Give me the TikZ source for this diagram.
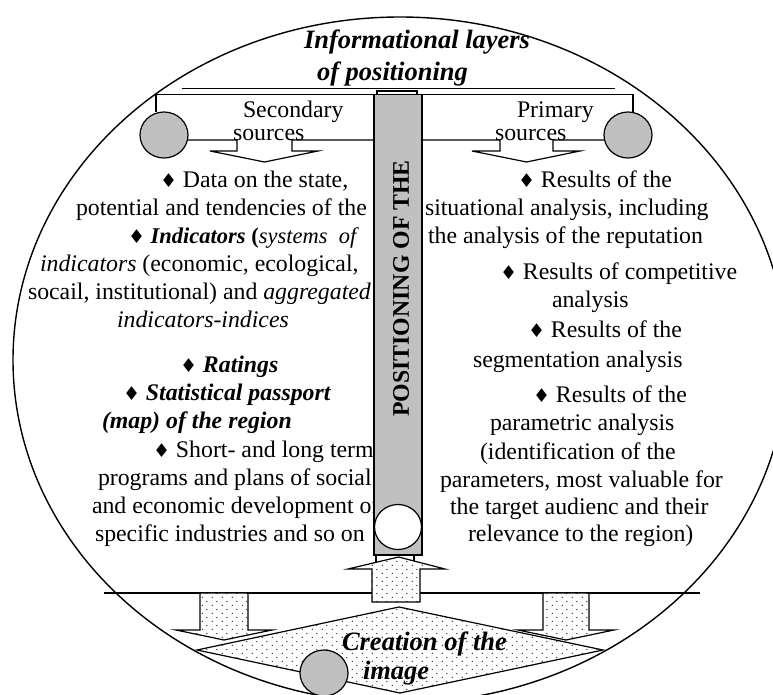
\documentclass[tikz,border=0pt]{standalone}
\usepackage{fontspec}
\setmainfont{Liberation Serif}
\newfontfamily\symfont{DejaVu Sans}
\usetikzlibrary{patterns}
% sparse staggered dot fill
\pgfdeclarepatternformonly{sparsedots}{\pgfqpoint{0pt}{0pt}}{\pgfqpoint{10pt}{8pt}}{\pgfqpoint{10pt}{8pt}}{%
  \pgfpathcircle{\pgfqpoint{2.5pt}{2pt}}{0.7pt}%
  \pgfpathcircle{\pgfqpoint{7.5pt}{6pt}}{0.7pt}%
  \pgfusepath{fill}}
\definecolor{pillargray}{HTML}{C0C0C0}
\newcommand\dmd{{\fontsize{19}{19}\symfont\char"2666}}

\begin{document}
\begin{tikzpicture}[x=1pt,y=-1pt,line width=1.2pt,
  txt/.style={anchor=base west,inner sep=0pt,outer sep=0pt,font=\fontsize{23.8}{28}\selectfont},
  big/.style={anchor=base west,inner sep=0pt,outer sep=0pt,font=\fontsize{26.5}{30}\selectfont\bfseries\itshape},
  dotfill/.style={draw,preaction={fill=white},pattern=sparsedots,pattern color=black},
  graydisc/.style={draw,fill=pillargray}]
\useasboundingbox (0,0) rectangle (773,695);
\clip (0,0) rectangle (773,695);

% outer ellipse
\draw[line width=1.4pt] (400,360) ellipse [x radius=387, y radius=343];

% title
\node[big] (t1) at (304,49) {Informational layers};
\node[big] (t2) at (317,81) {of positioning};

% left column
\node[txt] (l1) at (160,187) {\dmd{} Data on the state,};
\node[txt] (l2) at (76,215) {potential and tendencies of the};
\node[txt,font=\fontsize{22.5}{28}\selectfont] (l3) at (128,243) {\dmd{} \textbf{\textit{Indicators}} \textbf{(}\textit{systems\ \ of}};
\node[txt] (l4) at (40,271) {\textit{indicators} (economic, ecological,};
\node[txt] (l5) at (28,299) {socail, institutional) and \textit{aggregated}};
\node[txt] (l6) at (117,327) {\textit{indicators-indices}};
\node[txt] (l7) at (180,372) {\dmd{} \textbf{\textit{Ratings}}};
\node[txt] (l8) at (123,400) {\dmd{} \textbf{\textit{Statistical passport}}};
\node[txt] (l9) at (102,428) {\textbf{\textit{(map) of the region}}};
\node[txt] (l10) at (153,457) {\dmd{} Short- and long term};
\node[txt] (l11) at (98,485) {programs and plans of social};
\node[txt] (l12) at (92,513) {and economic development of};
\node[txt] (l13) at (95,541) {specific industries and so on};

% right column
\node[txt] (r1) at (518,187) {\dmd{} Results of the};
\node[txt] (r2) at (425,215) {situational analysis, including};
\node[txt] (r3) at (428,243) {the analysis of the reputation};
\node[txt] (r4) at (500,279) {\dmd{} Results of competitive};
\node[txt] (r5) at (552,307) {analysis};
\node[txt] (r6) at (528,337) {\dmd{} Results of the};
\node[txt] (r7) at (473,367) {segmentation analysis};
\node[txt] (r8) at (533,402) {\dmd{} Results of the};
\node[txt] (r9) at (490,430) {parametric analysis};
\node[txt] (r10) at (480,459) {(identification of the};
\node[txt] (r11) at (440,487) {parameters, most valuable for};
\node[txt] (r12) at (450,514) {the target audienc and their};
\node[txt] (r13) at (468,541) {relevance to the region)};

% source labels
\node[txt] (sec) at (243,118) {Secondary};
\node[txt] (secs) at (233,141) {sources};
\node[txt] (pri) at (517,118) {Primary};
\node[txt] (pris) at (495,141) {sources};

% top rails
\draw (182,88.5) -- (615,88.5);
\draw (156,112) -- (156,94.5) -- (633,94.5) -- (633,112);
\draw (377,94.5) -- (377,91) -- (417,91) -- (417,94.5);

% source discs
\draw[graydisc] (164,135) ellipse [x radius=24, y radius=23];
\draw[graydisc] (628,135) ellipse [x radius=24, y radius=23];

% flat down arrows under the sources
\draw[line join=miter] (187.5,140) -- (237,140) -- (237,151) -- (210,151) -- (264.5,162)
  -- (318,151) -- (292,151) -- (292,140) -- (374,140);
\draw[line join=miter] (422,140) -- (500,140) -- (500,151) -- (472,151) -- (526.5,162)
  -- (580,151) -- (553,151) -- (553,140) -- (604.5,140);

% central pillar
\draw[fill=pillargray] (374,94.5) rectangle (422,555);
\node[inner sep=0pt,rotate=90,font=\fontsize{23.8}{28}\selectfont\bfseries] (ptxt) at (401,288.5) {POSITIONING OF THE};
\draw[fill=white] (398,527) ellipse [x radius=23.5, y radius=22.5];

% base line
\draw (104,593) -- (700,593);

% up arrow into the pillar
\draw[dotfill,line join=miter] (372,602) -- (372,569) -- (348,569) -- (398.5,557) -- (445,569)
  -- (420,569) -- (420,602) -- cycle;
\draw (376,555) -- (376,562);
\draw (414,555) -- (414,561);

% down arrows to the image
\draw[dotfill,line join=miter] (200,593) -- (200,630) -- (176,630) -- (224,640) -- (272,630)
  -- (248,630) -- (248,593) -- cycle;
\draw[dotfill,line join=miter] (543,593) -- (543,630) -- (518,630) -- (566,640) -- (614,630)
  -- (589,630) -- (589,593) -- cycle;

% image diamond
\draw[dotfill,line join=miter] (399,607) -- (603,650) -- (400,693) -- (197,650) -- cycle;
\draw[graydisc] (324,673) ellipse [x radius=24, y radius=23];
\node[big] (c1) at (342,650) {Creation of the};
\node[big] (c2) at (363,679) {image};
\end{tikzpicture}
\end{document}
